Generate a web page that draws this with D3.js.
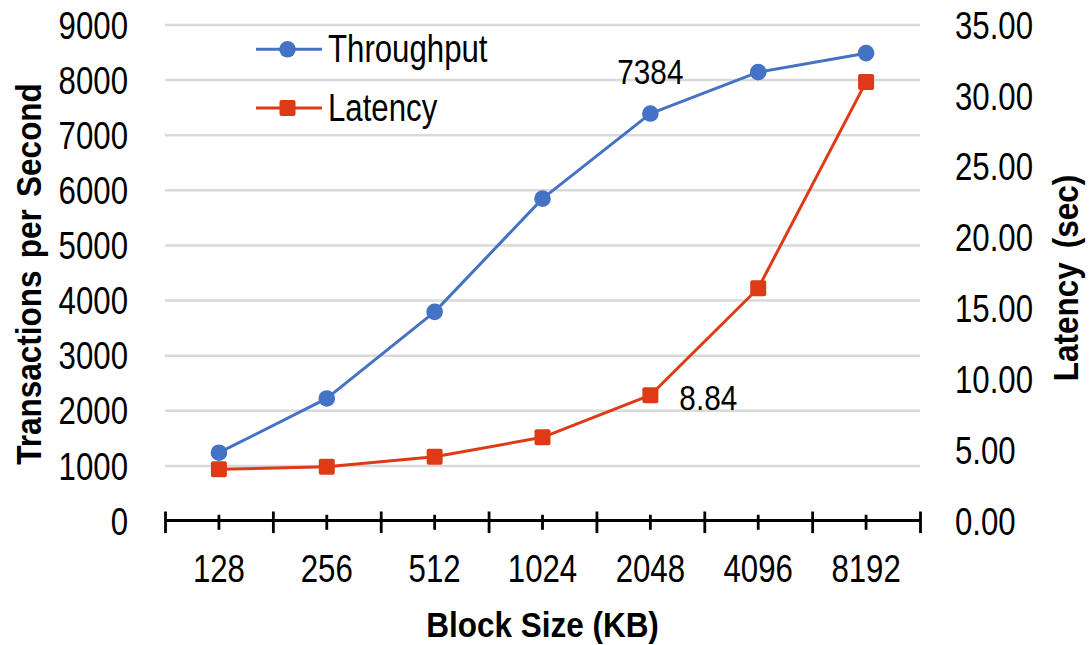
<!DOCTYPE html>
<html>
<head>
<meta charset="utf-8">
<script src="https://cdn.jsdelivr.net/npm/d3@7/dist/d3.min.js"></script>
<style>
  html, body { margin: 0; padding: 0; background: #fff; }
  svg { display: block; font-family: "Liberation Sans", Arial, sans-serif; }
</style>
</head>
<body>
<svg id="chart" width="1089" height="645"></svg>
<script>
// Block sizes on the x axis
const categories = ["128", "256", "512", "1024", "2048", "4096", "8192"];
// Transactions per second for each block size
const throughput = [1230, 2215, 3785, 5840, 7384, 8135, 8480];
// Latency in seconds for each block size
const latency = [3.61, 3.80, 4.50, 5.87, 8.84, 16.39, 30.95];
// Axis tick values
const leftTicks = [0, 1000, 2000, 3000, 4000, 5000, 6000, 7000, 8000, 9000];
const rightTicks = [0, 5, 10, 15, 20, 25, 30, 35];
// Series names and the point of each series that carries a value label
const seriesNames = ["Throughput", "Latency"];
const labelledIndex = 4;

const BLUE = "#4472C4";
const RED = "#DE3A16";

const svg = d3.select("#chart");
const plotLeft = 165, plotRight = 920, plotTop = 24.5, plotBottom = 520.5;

const x = d3.scaleBand().domain(categories).range([plotLeft, plotRight]).padding(0);
const xEdge = d3.scaleLinear().domain([0, categories.length]).range([plotLeft, plotRight]);
const cx = c => x(c) + x.bandwidth() / 2;
const yL = d3.scaleLinear().domain([0, 9000]).range([plotBottom, plotTop]);
const yR = d3.scaleLinear().domain([0, 35]).range([plotBottom, plotTop]);

// horizontal gridlines on the left-axis ticks
svg.append("g")
  .attr("transform", `translate(${plotLeft},0)`)
  .call(d3.axisLeft(yL).tickValues(leftTicks.filter(v => v > 0)).tickSize(-(plotRight - plotLeft)).tickFormat(""))
  .call(g => g.select(".domain").remove())
  .call(g => g.selectAll("line").attr("stroke", "#d9d9d9").attr("stroke-width", 2.5));

// left axis labels
svg.append("g")
  .attr("transform", `translate(${plotLeft},0)`)
  .call(d3.axisLeft(yL).tickValues(leftTicks).tickSize(0).tickFormat(d3.format("d")))
  .call(g => g.select(".domain").remove())
  .call(g => g.selectAll("text")
    .attr("x", 0).attr("dy", "0.35em")
    .attr("transform", "translate(-37,0) scale(0.8,1)")
    .attr("font-size", 39).attr("fill", "#000")
    .attr("font-family", "Liberation Sans, Arial, sans-serif"));

// right axis labels
svg.append("g")
  .attr("transform", `translate(${plotRight},0)`)
  .call(d3.axisRight(yR).tickValues(rightTicks).tickSize(0).tickFormat(d3.format(".2f")))
  .call(g => g.select(".domain").remove())
  .call(g => g.selectAll("text")
    .attr("x", 0).attr("dy", "0.35em")
    .attr("transform", "translate(35,0) scale(0.8,1)")
    .attr("font-size", 39).attr("fill", "#000")
    .attr("font-family", "Liberation Sans, Arial, sans-serif"));

// x axis: baseline, boundary ticks and centre ticks with labels
const xAxisG = svg.append("g").attr("transform", `translate(0,${plotBottom})`);
xAxisG.append("g")
  .call(d3.axisBottom(xEdge).tickValues(d3.range(categories.length + 1)).tickFormat(""))
  .call(g => g.select(".domain").attr("stroke", "#000").attr("stroke-width", 3).attr("d", `M${plotLeft},0H${plotRight}`))
  .call(g => g.selectAll("line").attr("stroke", "#000").attr("stroke-width", 2.8).attr("y1", -9).attr("y2", 12.6));
xAxisG.append("g")
  .call(d3.axisBottom(x).tickSizeOuter(0))
  .call(g => g.select(".domain").remove())
  .call(g => g.selectAll("line").attr("stroke", "#000").attr("stroke-width", 2.8).attr("y1", -5.7).attr("y2", 9.3))
  .call(g => g.selectAll("text")
    .attr("y", 0).attr("dy", 0)
    .attr("transform", "translate(0,61.2) scale(0.8,1)")
    .attr("font-size", 39).attr("fill", "#000")
    .attr("font-family", "Liberation Sans, Arial, sans-serif"));

// axis titles
svg.append("text")
  .attr("transform", `translate(${(plotLeft + plotRight) / 2},636.5) scale(0.9,1)`)
  .attr("text-anchor", "middle").attr("font-weight", "bold").attr("font-size", 35)
  .text("Block Size (KB)");
svg.append("text")
  .attr("transform", "translate(41,274) rotate(-90) scale(0.9,1)")
  .attr("text-anchor", "middle").attr("font-weight", "bold").attr("font-size", 35)
  .style("word-spacing", "4px")
  .text("Transactions per Second");
svg.append("text")
  .attr("transform", "translate(1078,278) rotate(-90) scale(0.9,1)")
  .attr("text-anchor", "middle").attr("font-weight", "bold").attr("font-size", 35)
  .style("word-spacing", "6px")
  .text("Latency (sec)");

// series lines and markers
const tpPts = categories.map((c, i) => [cx(c), yL(throughput[i])]);
const latPts = categories.map((c, i) => [cx(c), yR(latency[i])]);
const line = d3.line();

svg.append("path").attr("d", line(tpPts)).attr("fill", "none")
  .attr("stroke", BLUE).attr("stroke-width", 3).attr("stroke-linejoin", "round");
svg.append("g").selectAll("circle").data(tpPts).join("circle")
  .attr("cx", d => d[0]).attr("cy", d => d[1]).attr("r", 8.3).attr("fill", BLUE);

svg.append("path").attr("d", line(latPts)).attr("fill", "none")
  .attr("stroke", RED).attr("stroke-width", 3).attr("stroke-linejoin", "round");
svg.append("g").selectAll("rect").data(latPts).join("rect")
  .attr("x", d => d[0] - 8).attr("y", d => d[1] - 8).attr("width", 16).attr("height", 16)
  .attr("rx", 2).attr("fill", RED);

// value labels
const tpL = tpPts[labelledIndex];
svg.append("text")
  .attr("transform", `translate(${tpL[0]},${tpL[1] - 29.8}) scale(0.85,1)`)
  .attr("text-anchor", "middle").attr("font-size", 35)
  .text(d3.format("d")(throughput[labelledIndex]));
const latL = latPts[labelledIndex];
svg.append("text")
  .attr("transform", `translate(${latL[0] + 29},${latL[1] + 14.8}) scale(0.85,1)`)
  .attr("text-anchor", "start").attr("font-size", 35)
  .text(d3.format(".2f")(latency[labelledIndex]));

// legend
const legend = svg.append("g");
const legendRows = [
  { name: seriesNames[0], color: BLUE, shape: "circle", y: 49.3 },
  { name: seriesNames[1], color: RED, shape: "square", y: 108 }
];
legendRows.forEach(r => {
  legend.append("line").attr("x1", 256).attr("x2", 322).attr("y1", r.y).attr("y2", r.y)
    .attr("stroke", r.color).attr("stroke-width", 3);
  if (r.shape === "circle") {
    legend.append("circle").attr("cx", 287.5).attr("cy", r.y).attr("r", 8.3).attr("fill", r.color);
  } else {
    legend.append("rect").attr("x", 279.5).attr("y", r.y - 8).attr("width", 16).attr("height", 16)
      .attr("rx", 2).attr("fill", r.color);
  }
  legend.append("text")
    .attr("transform", `translate(328,${r.y + 12.5}) scale(0.8,1)`)
    .attr("font-size", 39).text(r.name);
});
</script>
</body>
</html>
